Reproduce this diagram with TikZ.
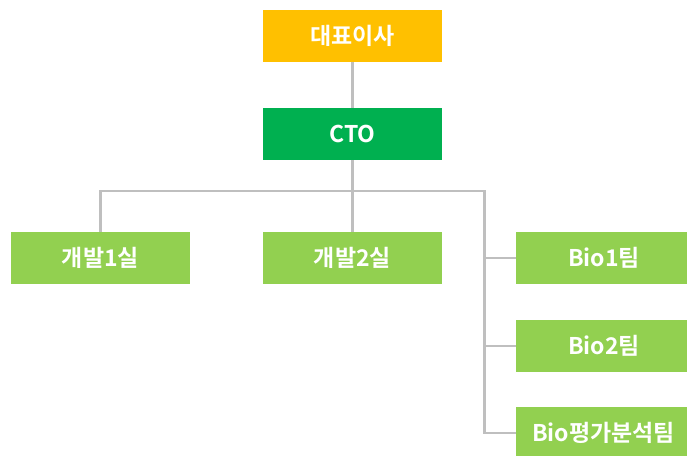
\documentclass[tikz,border=0pt]{standalone}
\usepackage{fontspec}
\newfontfamily\kr{Noto Sans CJK KR}[BoldFont={* Bold}]
\definecolor{ceo}{HTML}{FFC000}
\definecolor{cto}{HTML}{00B050}
\definecolor{team}{HTML}{92D050}
\definecolor{conn}{HTML}{BFBFBF}
\tikzset{lbl/.style={text=white,font=\kr\bfseries\fontsize{23}{26}\selectfont}}
\begin{document}
\begin{tikzpicture}[x=1pt,y=-1pt,
  box/.style={minimum width=179pt,minimum height=52pt,inner sep=0pt,lbl},
  link/.style={draw=conn,line width=2.6pt}]
\useasboundingbox (0,0) rectangle (687,455);
\fill[white] (0,0) rectangle (687,455);
\begin{scope}
\clip (0,0) rectangle (687,455);
\node[box,fill=ceo] (ceo) at (352.5,36) {대표이사};
\node[box,fill=cto] (cto) at (352.5,134) {CTO};
\node[box,fill=team] (d1) at (100.5,258) {개발1실};
\node[box,fill=team] (d2) at (352.5,258) {개발2실};
\node[box,fill=team] (b1) at (605.5,258) {};
\node[box,fill=team] (b2) at (605.5,346) {};
\node[box,fill=team] (b3) at (605.5,433) {};
\node[lbl] (t1) at (604,258) {Bio1팀};
\node[lbl] (t2) at (604,346) {Bio2팀};
\node[lbl] (t3) at (603.5,433) {Bio평가분석팀};
\end{scope}
\coordinate (hub) at (352.5,191);
\coordinate (rv) at (484.5,191);
\draw[link] (ceo.south) -- (cto.north);
\draw[link] (cto.south) -- (hub);
\draw[link] (d1.north) |- (rv) -- (rv |- b3.west) -- (b3.west);
\draw[link] (hub) -- (d2.north);
\draw[link] (rv |- b1.west) -- (b1.west);
\draw[link] (rv |- b2.west) -- (b2.west);
\end{tikzpicture}
\end{document}
